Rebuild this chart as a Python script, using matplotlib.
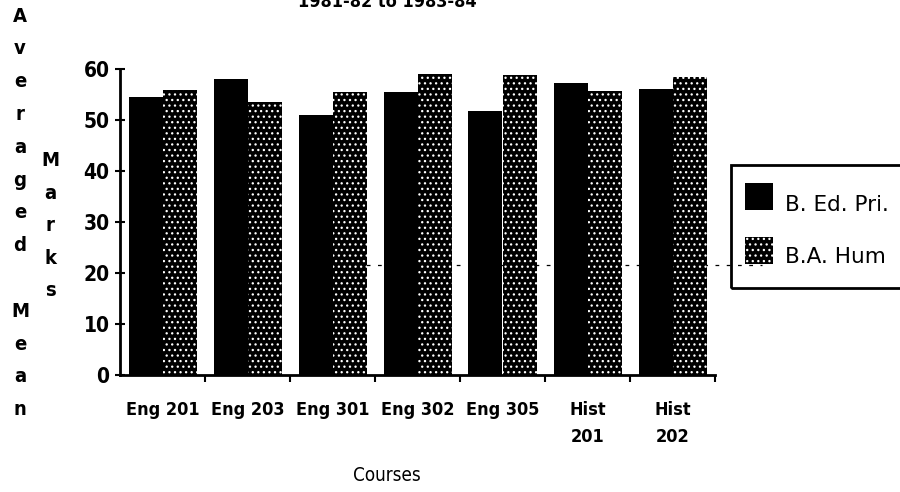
import matplotlib
matplotlib.use("Agg")
import matplotlib.pyplot as plt
from matplotlib.patches import Rectangle
from matplotlib.lines import Line2D

plt.rcParams['font.family'] = ['DejaVu Sans']
plt.rcParams['font.stretch'] = 'condensed'
plt.rcParams['font.weight'] = 'bold'
plt.rcParams['hatch.linewidth'] = 0.9

# Course means for the two programmes
courses = ["Eng 201", "Eng 203", "Eng 301", "Eng 302", "Eng 305", "Hist\n201", "Hist\n202"]
bed_pri = [54.5, 58.0, 51.0, 55.5, 51.8, 57.2, 56.0]
ba_hum = [55.8, 53.5, 55.5, 59.0, 58.8, 55.6, 58.5]
series_names = ["B. Ed. Pri.", "B.A. Hum"]
yticks = [0, 10, 20, 30, 40, 50, 60]

W, H = 900, 492
fig = plt.figure(figsize=(W / 100, H / 100), dpi=100)
ax = fig.add_axes([120 / W, 1 - 375 / H, 595 / W, 306 / H])

x = list(range(len(courses)))
bw = 0.4
ax.bar([i - bw / 2 for i in x], bed_pri, width=bw, color="black", linewidth=0, zorder=3)
ax.bar([i + bw / 2 for i in x], ba_hum, width=bw, color="black", edgecolor="white",
       hatch="...", linewidth=0, zorder=3)

ax.set_xlim(-0.5, len(courses) - 0.5)
ax.set_ylim(0, 60)
for s in ("top", "right"):
    ax.spines[s].set_visible(False)
ax.spines["left"].set_linewidth(2)
ax.spines["bottom"].set_linewidth(2)

ax.set_yticks(yticks)
ax.set_yticklabels([str(t) for t in yticks], fontsize=15)
ax.tick_params(axis="y", direction="inout", length=7, width=1.5, pad=4)
ax.set_xticks(x)
ax.set_xticklabels(courses, fontsize=13, linespacing=1.6, va="top")
ax.tick_params(axis="x", which="major", length=0, pad=19)
ax.set_xticks([i + 0.5 for i in x], minor=True)
ax.tick_params(axis="x", which="minor", direction="out", length=5, width=1.5)
ax.set_xlabel("Courses", fontsize=13.5)
ax.xaxis.set_label_coords((387 - 120) / 595, -(466 - 375) / 306)

# faint dashed guide behind the bars
ax.add_line(Line2D([1.74, 7.05], [21.6, 21.6], color="black", lw=0.9,
                   ls=(0, (3, 6)), zorder=1, clip_on=False))

# stacked vertical axis caption
caption_a = "Averaged Mean"
ys = [16 + 32.8 * k for k in range(len(caption_a))]
for ch, yp in zip(caption_a, ys):
    if ch != " ":
        fig.text(20 / W, 1 - yp / H, ch, fontsize=14.5, ha="center", va="center")
for k, ch in enumerate("Marks"):
    fig.text(50 / W, 1 - (161 + 32.4 * k) / H, ch, fontsize=14.5, ha="center", va="center")

# title, partly cut off at the top edge
fig.text(387 / W, 1 - 7 / H, "1981-82 to 1983-84", fontsize=13, ha="center", va="baseline")

# legend box
fig.patches.append(Rectangle((731 / W, 1 - 288 / H), 200 / W, 123 / H, transform=fig.transFigure,
                             fill=False, edgecolor="black", linewidth=2))
fig.patches.append(Rectangle((745 / W, 1 - 210 / H), 28 / W, 27 / H, transform=fig.transFigure,
                             facecolor="black", edgecolor="black", linewidth=0))
fig.patches.append(Rectangle((745 / W, 1 - 264 / H), 28 / W, 27 / H, transform=fig.transFigure,
                             facecolor="black", edgecolor="white", hatch="...", linewidth=0))
fig.text(785 / W, 1 - 205 / H, series_names[0], fontsize=15.5, ha="left", va="center",
         fontstretch="normal", fontweight="normal")
fig.text(785 / W, 1 - 257 / H, series_names[1], fontsize=15.5, ha="left", va="center",
         fontstretch="normal", fontweight="normal")

fig.savefig("out.png", dpi=100)
